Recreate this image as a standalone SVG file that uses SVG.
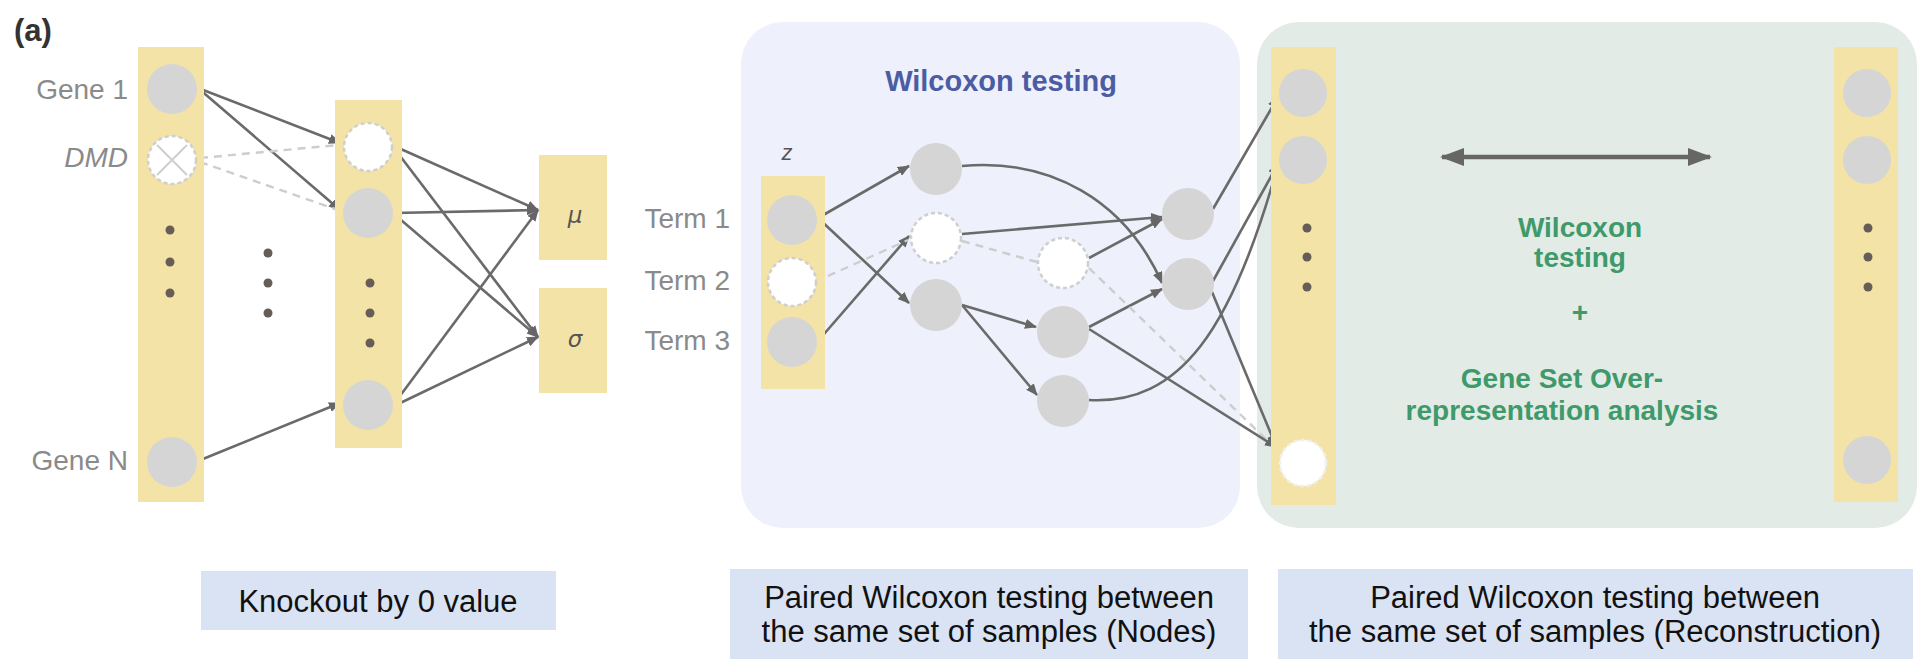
<svg xmlns="http://www.w3.org/2000/svg" width="1919" height="659" viewBox="0 0 1919 659">
  <defs>
    <marker id="arrow" markerUnits="userSpaceOnUse" markerWidth="12" markerHeight="10" refX="11" refY="5" orient="auto">
      <path d="M0,0 L12,5 L0,10 z" fill="#666"/>
    </marker>
    <marker id="bigArrow" markerUnits="userSpaceOnUse" markerWidth="24" markerHeight="18" refX="22" refY="9" orient="auto-start-reverse">
      <path d="M0,0 L24,9 L0,18 z" fill="#666"/>
    </marker>
    <style>
      .col { fill: #f4e3a7; }
      .node { fill: #d5d5d5; }
      .off { fill: #ffffff; stroke: #cfcfcf; stroke-width: 2.5; stroke-dasharray: 4 3; }
      .dot { fill: #665d57; }
      .edge { fill: none; stroke: #6a6a6a; stroke-width: 2.6; }
      .ghost { fill: none; stroke: #cdcdcd; stroke-width: 2.4; stroke-dasharray: 8 6; }
      .lbl { font-family: "Liberation Sans", Arial, sans-serif; font-size: 28px; fill: #8a8a8a; }
      .cap { font-family: "Liberation Sans", Arial, sans-serif; font-size: 31px; fill: #111; text-anchor: middle; }
      .box { fill: #dae3f3; }
      .green { font-family: "Liberation Sans", Arial, sans-serif; font-size: 28px; font-weight: bold; fill: #3f9a6b; text-anchor: middle; }
    </style>
  </defs>

  <rect width="1919" height="659" fill="#ffffff"/>

  <!-- panel label -->
  <text x="14" y="41" font-family="Liberation Sans, Arial, sans-serif" font-size="31" font-weight="bold" fill="#333">(a)</text>

  <!-- background panels -->
  <g id="panel-nodes">
    <rect x="741" y="22" width="499" height="506" rx="42" fill="#eef0fb"/>
    <text x="1001" y="91" font-family="Liberation Sans, Arial, sans-serif" font-size="29" font-weight="bold" fill="#4b5ca4" text-anchor="middle">Wilcoxon testing</text>
  </g>
  <g id="panel-reconstruction">
    <rect x="1257" y="22" width="660" height="506" rx="42" fill="#e3ebe6"/>
  </g>

  <!-- connectors -->
  <g id="connectors">
    <!-- input genes to hidden layer -->
    <line class="edge" x1="198" y1="88" x2="340" y2="143" marker-end="url(#arrow)"/>
    <line class="edge" x1="198" y1="88" x2="340" y2="210" marker-end="url(#arrow)"/>
    <line class="ghost" x1="200" y1="158" x2="338" y2="145"/>
    <line class="ghost" x1="200" y1="162" x2="338" y2="210"/>
    <line class="edge" x1="198" y1="461" x2="340" y2="403" marker-end="url(#arrow)"/>
    <!-- hidden layer to mu / sigma -->
    <line class="edge" x1="394" y1="146" x2="538" y2="210" marker-end="url(#arrow)"/>
    <line class="edge" x1="394" y1="148" x2="538" y2="337" marker-end="url(#arrow)"/>
    <line class="edge" x1="394" y1="213" x2="538" y2="210" marker-end="url(#arrow)"/>
    <line class="edge" x1="394" y1="214" x2="538" y2="337" marker-end="url(#arrow)"/>
    <line class="edge" x1="394" y1="404" x2="538" y2="210" marker-end="url(#arrow)"/>
    <line class="edge" x1="394" y1="406" x2="538" y2="337" marker-end="url(#arrow)"/>
    <!-- latent terms to decoder layer 1 -->
    <line class="edge" x1="818" y1="218" x2="909" y2="166" marker-end="url(#arrow)"/>
    <line class="edge" x1="818" y1="218" x2="909" y2="303" marker-end="url(#arrow)"/>
    <line class="edge" x1="818" y1="341" x2="909" y2="236" marker-end="url(#arrow)"/>
    <line class="ghost" x1="828" y1="276" x2="908" y2="240"/>
    <!-- decoder layer 1 to layer 2 / 3 -->
    <path class="edge" d="M962 166 C1050 158 1125 200 1162 283" marker-end="url(#arrow)"/>
    <line class="edge" x1="962" y1="234" x2="1162" y2="217" marker-end="url(#arrow)"/>
    <line class="ghost" x1="962" y1="241" x2="1037" y2="262"/>
    <line class="edge" x1="962" y1="305" x2="1036" y2="327" marker-end="url(#arrow)"/>
    <line class="edge" x1="962" y1="305" x2="1037" y2="395" marker-end="url(#arrow)"/>
    <!-- decoder layer 2 to layer 3 -->
    <line class="edge" x1="1089" y1="258" x2="1162" y2="219" marker-end="url(#arrow)"/>
    <line class="edge" x1="1089" y1="327" x2="1162" y2="289" marker-end="url(#arrow)"/>
    <!-- to reconstruction -->
    <line class="ghost" x1="1089" y1="268" x2="1272" y2="445"/>
    <line class="edge" x1="1089" y1="329" x2="1276" y2="447" marker-end="url(#arrow)"/>
    <path class="edge" d="M1089 400 C1180 405 1232 330 1278 165" marker-end="url(#arrow)"/>
    <line class="edge" x1="1213" y1="209" x2="1278" y2="97" marker-end="url(#arrow)"/>
    <line class="edge" x1="1213" y1="281" x2="1278" y2="164" marker-end="url(#arrow)"/>
    <line class="edge" x1="1212" y1="292" x2="1276" y2="446" marker-end="url(#arrow)"/>
    <!-- comparison arrow -->
    <line x1="1442" y1="157" x2="1710" y2="157" stroke="#666" stroke-width="4.5" marker-start="url(#bigArrow)" marker-end="url(#bigArrow)"/>
  </g>

  <!-- input layer -->
  <g id="input-layer">
    <rect class="col" x="138" y="47" width="66" height="455"/>
    <text class="lbl" x="128" y="99" text-anchor="end">Gene 1</text>
    <text class="lbl" x="128" y="167" text-anchor="end" font-style="italic">DMD</text>
    <text class="lbl" x="128" y="470" text-anchor="end">Gene N</text>
  </g>
  <g id="gene-1"><circle class="node" cx="172" cy="89" r="25"/></g>
  <g id="gene-dmd">
    <circle class="off" cx="172" cy="160" r="24"/>
    <path d="M157 145 L187 175 M187 145 L157 175" stroke="#cfcfcf" stroke-width="2"/>
  </g>
  <g id="gene-dots">
    <circle class="dot" cx="170" cy="230" r="4.5"/>
    <circle class="dot" cx="170" cy="262" r="4.5"/>
    <circle class="dot" cx="170" cy="293" r="4.5"/>
  </g>
  <g id="gene-n"><circle class="node" cx="172" cy="462" r="25"/></g>

  <g id="between-dots">
    <circle class="dot" cx="268" cy="253" r="4.5"/>
    <circle class="dot" cx="268" cy="283" r="4.5"/>
    <circle class="dot" cx="268" cy="313" r="4.5"/>
  </g>

  <!-- encoder hidden layer -->
  <g id="hidden-layer"><rect class="col" x="335" y="100" width="67" height="348"/></g>
  <g id="hidden-1"><circle class="off" cx="368" cy="147" r="24"/></g>
  <g id="hidden-2"><circle class="node" cx="368" cy="213" r="25"/></g>
  <g id="hidden-dots">
    <circle class="dot" cx="370" cy="283" r="4.5"/>
    <circle class="dot" cx="370" cy="313" r="4.5"/>
    <circle class="dot" cx="370" cy="343" r="4.5"/>
  </g>
  <g id="hidden-n"><circle class="node" cx="368" cy="405" r="25"/></g>

  <!-- mean / std -->
  <g id="mu">
    <rect class="col" x="539" y="155" width="68" height="105"/>
    <text x="575" y="223" font-family="DejaVu Sans, sans-serif" font-style="italic" font-size="23" fill="#555" text-anchor="middle">μ</text>
  </g>
  <g id="sigma">
    <rect class="col" x="539" y="288" width="68" height="105"/>
    <text x="575" y="347" font-family="DejaVu Sans, sans-serif" font-style="italic" font-size="23" fill="#555" text-anchor="middle">σ</text>
  </g>

  <!-- latent terms -->
  <g id="latent">
    <text x="787" y="160" font-family="Liberation Sans, Arial, sans-serif" font-style="italic" font-size="22" fill="#555" text-anchor="middle">z</text>
    <rect class="col" x="761" y="176" width="64" height="213"/>
    <text class="lbl" x="730" y="228" text-anchor="end">Term 1</text>
    <text class="lbl" x="730" y="290" text-anchor="end">Term 2</text>
    <text class="lbl" x="730" y="350" text-anchor="end">Term 3</text>
  </g>
  <g id="term-1"><circle class="node" cx="792" cy="220" r="25"/></g>
  <g id="term-2"><circle class="off" cx="792" cy="282" r="24"/></g>
  <g id="term-3"><circle class="node" cx="792" cy="342" r="25"/></g>

  <!-- decoder layers -->
  <g id="dec1-a"><circle class="node" cx="936" cy="169" r="26"/></g>
  <g id="dec1-b"><circle class="off" cx="936" cy="238" r="25"/></g>
  <g id="dec1-c"><circle class="node" cx="936" cy="305" r="26"/></g>
  <g id="dec2-a"><circle class="off" cx="1063" cy="263" r="25"/></g>
  <g id="dec2-b"><circle class="node" cx="1063" cy="332" r="26"/></g>
  <g id="dec2-c"><circle class="node" cx="1063" cy="401" r="26"/></g>
  <g id="dec3-a"><circle class="node" cx="1188" cy="214" r="26"/></g>
  <g id="dec3-b"><circle class="node" cx="1188" cy="284" r="26"/></g>

  <!-- reconstruction with knockout -->
  <g id="recon-ko">
    <rect class="col" x="1271" y="47" width="65" height="458"/>
    <circle class="node" cx="1303" cy="93" r="24"/>
    <circle class="node" cx="1303" cy="160" r="24"/>
    <circle class="dot" cx="1307" cy="228" r="4.5"/>
    <circle class="dot" cx="1307" cy="257" r="4.5"/>
    <circle class="dot" cx="1307" cy="287" r="4.5"/>
    <circle cx="1303" cy="463" r="23" fill="#ffffff" stroke="#f0f0f0" stroke-width="2.5" stroke-dasharray="4 3"/>
  </g>

  <!-- reconstruction without knockout -->
  <g id="recon-base">
    <rect class="col" x="1834" y="47" width="64" height="455"/>
    <circle class="node" cx="1867" cy="93" r="24"/>
    <circle class="node" cx="1867" cy="160" r="24"/>
    <circle class="dot" cx="1868" cy="228" r="4.5"/>
    <circle class="dot" cx="1868" cy="257" r="4.5"/>
    <circle class="dot" cx="1868" cy="287" r="4.5"/>
    <circle class="node" cx="1867" cy="460" r="24"/>
  </g>

  <g id="recon-method">
    <text class="green" x="1580" y="237">Wilcoxon</text>
    <text class="green" x="1580" y="267">testing</text>
    <text class="green" x="1580" y="322">+</text>
    <text class="green" x="1562" y="388">Gene Set Over-</text>
    <text class="green" x="1562" y="420">representation analysis</text>
  </g>

  <!-- captions -->
  <g id="caption-knockout">
    <rect class="box" x="201" y="571" width="355" height="59"/>
    <text class="cap" x="378" y="612">Knockout by 0 value</text>
  </g>
  <g id="caption-nodes">
    <rect class="box" x="730" y="569" width="518" height="90"/>
    <text class="cap" x="989" y="608">Paired Wilcoxon testing between</text>
    <text class="cap" x="989" y="642">the same set of samples (Nodes)</text>
  </g>
  <g id="caption-reconstruction">
    <rect class="box" x="1278" y="569" width="635" height="90"/>
    <text class="cap" x="1595" y="608">Paired Wilcoxon testing between</text>
    <text class="cap" x="1595" y="642">the same set of samples (Reconstruction)</text>
  </g>
</svg>
